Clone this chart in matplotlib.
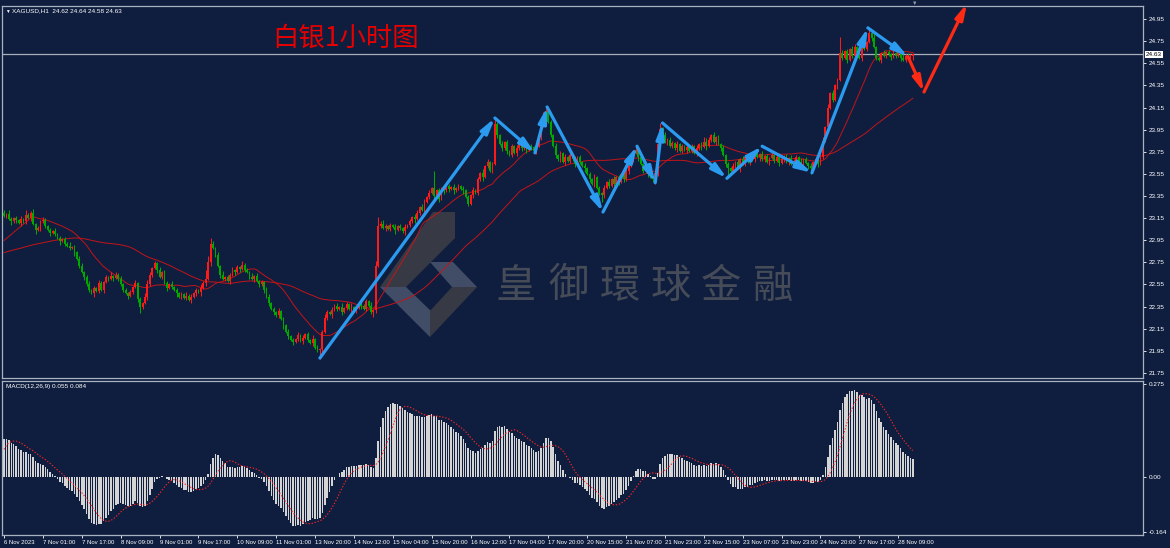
import numpy as np
import pandas as pd
import matplotlib
matplotlib.use("Agg")
import matplotlib.pyplot as plt
from matplotlib.patches import Polygon

W, H, DPI = 1170, 548, 100
BG = "#0f1e3f"
FRAME = "#aab2bf"
UP = "#ff1a1a"
DOWN = "#00a800"
MA_COLOR = "#c41418"
BLUE = "#2b9bf0"
RED_ARROW = "#ff2a14"
SMALL_FONT = ["Liberation Sans", "DejaVu Sans"]
CJK_SC = ["Noto Sans CJK SC", "DejaVu Sans"]
CJK_TC = ["Noto Sans CJK TC", "DejaVu Sans"]
SMALL = 4.6
XSMALL = 4.3

# ---------------- data ----------------
symbol_header = "XAGUSD,H1  24.62 24.64 24.58 24.63"
macd_header = "MACD(12,26,9) 0.055 0.084"
title = "白银1小时图"
watermark = "皇御環球金融"
last_price = 24.63

# closes of the hours before the first visible bar (indicator warm-up only)
pre_closes = [
    22.74, 22.77, 22.75, 22.79, 22.76, 22.80, 22.78, 22.82, 22.79, 22.76,
    22.80, 22.83, 22.79, 22.76, 22.81, 22.84, 22.80, 22.77, 22.75, 22.79,
    22.82, 22.78, 22.75, 22.73, 22.77, 22.80, 22.76, 22.74, 22.72, 22.76,
    22.79, 22.82, 22.78, 22.80, 22.84, 22.80, 22.77, 22.79, 22.82, 22.78,
    22.75, 22.78, 22.80, 22.76, 22.74, 22.77, 22.75, 22.78, 22.76, 22.80,
    22.78, 22.76,
    22.95, 23.12, 23.25, 23.20, 23.16, 23.22, 23.18, 23.20,
]

closes = [
    # 0-11
    23.17, 23.19, 23.14, 23.12, 23.15, 23.13, 23.11, 23.14, 23.12, 23.18, 23.15, 23.20,
    # 12-21
    23.10, 23.04, 23.06, 23.12, 23.13, 23.08, 23.04, 23.02, 23.03, 23.01,
    # 22-33
    22.97, 22.94, 22.96, 22.92, 22.90, 22.88, 22.89, 22.84, 22.78, 22.72, 22.66, 22.62,
    # 34-41
    22.55, 22.50, 22.47, 22.52, 22.49, 22.56, 22.50, 22.57,
    # 42-54
    22.62, 22.60, 22.63, 22.61, 22.64, 22.60, 22.55, 22.50, 22.47, 22.45, 22.48, 22.53, 22.56,
    # 55-65
    22.42, 22.35, 22.38, 22.44, 22.55, 22.64, 22.70, 22.74, 22.68, 22.62, 22.66,
    # 66-80
    22.56, 22.52, 22.55, 22.53, 22.50, 22.47, 22.44, 22.46, 22.43,
    22.45, 22.41, 22.44, 22.47, 22.50, 22.48,
    # 81-92
    22.52, 22.56, 22.60, 22.75, 22.92, 22.88, 22.82, 22.72, 22.64, 22.60, 22.62, 22.58,
    # 93-106
    22.64, 22.68, 22.66, 22.71, 22.69, 22.73, 22.68,
    22.66, 22.62, 22.60, 22.63, 22.58, 22.55, 22.57,
    # 107-120
    22.50, 22.44, 22.38, 22.33, 22.30, 22.27, 22.31, 22.24,
    22.18, 22.12, 22.08, 22.05, 22.03, 22.06,
    # 121-134
    22.09, 22.04, 22.07, 22.10, 22.05, 22.02, 22.06, 21.98, 21.96, 21.97,
    22.12, 22.25, 22.30, 22.28,
    # 135-154
    22.32, 22.36, 22.33, 22.35, 22.30, 22.34, 22.37, 22.33, 22.35, 22.31, 22.34, 22.38, 22.36, 22.33,
    22.40, 22.36, 22.30, 22.32, 22.72, 23.08,
    # 155-174
    23.10, 23.06, 23.08, 23.05, 23.09, 23.07, 23.04, 23.08, 23.06, 23.03, 23.07, 23.09,
    23.12, 23.16, 23.14, 23.20, 23.25, 23.22, 23.30, 23.34,
    # 175-189
    23.38, 23.42, 23.35, 23.40, 23.32,
    23.42, 23.40, 23.44, 23.41, 23.43, 23.40, 23.42, 23.44, 23.41, 23.40,
    # 190-202
    23.34, 23.28, 23.36, 23.40, 23.38, 23.50, 23.56, 23.52, 23.62, 23.66, 23.58, 23.64, 24.00,
    # 203-219
    23.90, 23.82, 23.78, 23.84, 23.76, 23.72, 23.80, 23.74, 23.78,
    23.82, 23.78, 23.81, 23.77, 23.80, 23.79, 23.76, 23.80,
    # 220-238
    23.88, 23.98, 24.08, 24.12, 24.02, 23.90,
    23.80, 23.72, 23.68, 23.74, 23.66, 23.70, 23.67,
    23.72, 23.68, 23.64, 23.70, 23.66, 23.62,
    # 239-256
    23.60, 23.55, 23.50, 23.46, 23.52, 23.42, 23.38, 23.36,
    23.42, 23.48, 23.44, 23.50, 23.46, 23.52, 23.48, 23.55, 23.50, 23.58,
    # 257-270
    23.62, 23.68, 23.74, 23.77, 23.70, 23.64, 23.58, 23.62, 23.55, 23.52,
    23.50, 23.56, 23.82, 23.96,
    # 271-281
    23.90, 23.84, 23.86, 23.80, 23.83, 23.78, 23.82, 23.76, 23.80, 23.77, 23.79,
    # 282-299
    23.76, 23.80, 23.74, 23.78, 23.82, 23.79, 23.84, 23.80, 23.86, 23.90, 23.84, 23.88, 23.82, 23.78,
    23.72, 23.64, 23.60, 23.58,
    # 300-309
    23.62, 23.66, 23.60, 23.68, 23.64, 23.70, 23.66, 23.72, 23.68, 23.74,
    # 310-331
    23.70, 23.73, 23.68, 23.71, 23.66, 23.69, 23.72, 23.67, 23.70, 23.65,
    23.68, 23.71, 23.66, 23.69, 23.64, 23.67, 23.70, 23.66, 23.63, 23.68, 23.65, 23.62,
    # 332-344
    23.60, 23.66, 23.68, 23.64, 23.70, 23.85, 23.97, 24.15, 24.28, 24.22, 24.35, 24.40, 24.64,
    # 345-360
    24.60, 24.66, 24.58, 24.68, 24.62, 24.70, 24.64, 24.60, 24.72, 24.68, 24.74,
    24.82, 24.78, 24.70, 24.60, 24.58,
    # 361-374
    24.64, 24.62, 24.65, 24.63, 24.61, 24.64, 24.62, 24.66,
    24.60, 24.58, 24.62, 24.60, 24.62, 24.63,
]

# wick lengths in cents above / below the candle bodies, one digit per bar
upper_wick_cents = (
    "21321 21312 21312 13212 13121"
    "21312 13212 31213 21213 12131"
    "21213 12134 21213 12213 12121"
    "31212 13286 32121 31213 12131"
    "21312 12132 12131 21312 13121"
    "21312 12321 31213 12131 21312"
    "13121 23212 13121 31213 21321"
    "21312 13121 31213 12131 21312"
    "12321 31212 13121 31213 21321"
    "21312 13121 31213 12131 21312"
    "13121 31213 21213 12131 21312"
    "21312 13121 31243 21312 13121"
    "31213 12131 21312 13121 31213"
    "12131 21312 13312 13121 31213"
    "21312 12131 21312 13121 31211"
)
lower_wick_cents = (
    "12131 21312 13121 31213 12131"
    "21213 12131 21312 13121 31212"
    "13121 31213 12131 21312 13121"
    "21312 13121 31213 12131 21312"
    "12131 21312 13121 31213 12131"
    "21312 13121 31213 12131 21312"
    "12131 21312 13121 31213 12131"
    "21312 13121 31213 12131 21312"
    "12131 21312 13121 31213 12131"
    "21312 13121 31213 12131 21312"
    "12131 21312 13121 31213 12131"
    "21312 13121 31213 12131 21312"
    "12131 21312 13121 31213 12131"
    "21312 13121 31213 12131 21312"
    "12131 21312 13121 31213 12131"
)
high_spikes = {9: 23.22, 85: 22.97, 153: 22.76, 154: 23.16, 177: 23.58, 202: 24.05,
               223: 24.15, 260: 23.80, 270: 24.01, 292: 23.93, 339: 24.18,
               344: 24.79, 356: 24.87, 374: 24.64}
low_spikes = {13: 23.01, 56: 22.29, 130: 21.88, 152: 22.26, 246: 23.30,
              268: 23.46, 298: 23.52, 332: 23.55, 374: 24.58}

time_labels = ["6 Nov 2023", "7 Nov 01:00", "7 Nov 17:00", "8 Nov 09:00", "9 Nov 01:00",
               "9 Nov 17:00", "10 Nov 09:00", "11 Nov 01:00", "13 Nov 20:00", "14 Nov 12:00",
               "15 Nov 04:00", "15 Nov 20:00", "16 Nov 12:00", "17 Nov 04:00", "17 Nov 20:00",
               "20 Nov 15:00", "21 Nov 07:00", "21 Nov 23:00", "22 Nov 15:00", "23 Nov 07:00",
               "23 Nov 23:00", "24 Nov 20:00", "27 Nov 17:00", "28 Nov 09:00"]
label_every = 16

zigzag_bars = [130, 202, 218.5, 223.5, 246.5, 260.5, 268, 271, 297.5, 312, 332.5, 355.5, 372]
zigzag_prices = [21.885, 24.055, 23.74, 24.155, 23.205, 23.80, 23.47, 24.01, 23.51, 23.80,
                 23.56, 24.87, 24.61]
forecast_bars = [372, 378.6, 396.3]
forecast_prices = [24.61, 24.29, 25.09]

ma_periods = [20, 60]
price_ticks = [24.95, 24.75, 24.55, 24.35, 24.15, 23.95, 23.75, 23.55, 23.35, 23.15,
               22.95, 22.75, 22.55, 22.35, 22.15, 21.95, 21.75]
macd_ticks = [0.275, 0.0, -0.164]
macd_tick_labels = ["0.275", "0.00", "-0.164"]

# ---------------- derived series ----------------
closes = np.array(closes, dtype=float)
n = len(closes)
assert n == 375, n
uw = np.array([int(ch) for ch in upper_wick_cents.replace(" ", "")], dtype=float)
lw = np.array([int(ch) for ch in lower_wick_cents.replace(" ", "")], dtype=float)
assert len(uw) == n and len(lw) == n, (len(uw), len(lw))

opens = np.concatenate([[pre_closes[-1]], closes[:-1]])
opens[-1] = 24.62
highs = np.maximum(opens, closes) + uw / 100.0
lows = np.minimum(opens, closes) - lw / 100.0
for k, v in high_spikes.items():
    highs[k] = v
for k, v in low_spikes.items():
    lows[k] = v

full = pd.Series(list(pre_closes) + list(closes))
npre = len(pre_closes)
mas = [full.rolling(p).mean().values[npre:] for p in ma_periods]
ema12 = full.ewm(span=12, adjust=False).mean()
ema26 = full.ewm(span=26, adjust=False).mean()
macd_full = ema12 - ema26
signal_full = macd_full.rolling(9).mean()
macd = macd_full.values[npre:]
signal = signal_full.values[npre:]

bars = np.arange(n)

# ---------------- figure ----------------
plt.rcParams["font.family"] = SMALL_FONT
fig = plt.figure(figsize=(W / DPI, H / DPI), dpi=DPI, facecolor=BG)


def add_px_axes(x0, y0, x1, y1):
    a = fig.add_axes([x0 / W, 1 - y1 / H, (x1 - x0) / W, (y1 - y0) / H])
    a.set_facecolor(BG)
    for s in a.spines.values():
        s.set_color(FRAME)
        s.set_linewidth(0.9)
    return a


def ftext(x, y, s, **kw):
    return fig.text(x / W, 1 - y / H, s, **kw)


PPB = 2.43          # pixels per bar
X0 = 4.0            # pixel of bar 0
xlim = (-(X0 - 2) / PPB, (1143 - X0) / PPB)

ax = add_px_axes(2, 6, 1143, 378)
ax2 = add_px_axes(2, 381, 1143, 535)

# main panel
ax.set_xlim(*xlim)
ax.set_ylim(21.75 - 5 / 110.6, 24.95 + 13 / 110.6)

# watermark (behind everything)
def axf(x, y):
    return ((x - 2) / 1141.0, (378 - y) / 372.0)

logo_dark = "#373a45"
logo_light = "#414c67"
logo_parts = [
    ([(433, 212), (455, 212), (455, 238), (406, 287), (380, 287)], logo_dark),
    ([(380, 287), (406, 287), (432, 312), (430, 337)], logo_light),
    ([(430, 262), (453, 262), (477, 287), (452, 287)], logo_light),
    ([(452, 287), (477, 287), (430, 337), (430, 311)], logo_dark),
]
for pts, col in logo_parts:
    ax.add_patch(Polygon([axf(*p) for p in pts], closed=True, transform=ax.transAxes,
                         facecolor=col, edgecolor="none", zorder=0.5))
wm_centers = [516, 569, 620, 671, 721, 773]
for ch, cx in zip(watermark, wm_centers):
    xx, yy = axf(cx, 286)
    ax.text(xx, yy, ch, transform=ax.transAxes, ha="center", va="center",
            fontsize=29, color="#464b58", family=CJK_TC, zorder=0.6)

# moving averages
for m in mas:
    ax.plot(bars, m, color=MA_COLOR, lw=0.7, zorder=2)

# current price line
ax.axhline(last_price, color="#a9afba", lw=0.9, zorder=2.5)

# candles
up = closes >= opens
cols = np.where(up, UP, DOWN)
ax.vlines(bars, lows, highs, colors=cols, lw=0.75, zorder=3)
body_bottom = np.minimum(opens, closes)
body_h = np.maximum(np.abs(closes - opens), 0.009)
ax.bar(bars, body_h, bottom=body_bottom, width=0.72, color=cols, linewidth=0, zorder=3.1)

# zigzag arrows
def arrow(a, xs, ys, color):
    for i in range(len(xs) - 1):
        a.annotate("", xy=(xs[i + 1], ys[i + 1]), xytext=(xs[i], ys[i]),
                   arrowprops=dict(arrowstyle="-|>,head_length=1.0,head_width=0.26",
                                   color=color, lw=2.3, shrinkA=0, shrinkB=0,
                                   mutation_scale=9),
                   annotation_clip=False, zorder=6)

arrow(ax, zigzag_bars, zigzag_prices, BLUE)
arrow(ax, forecast_bars, forecast_prices, RED_ARROW)

ax.set_xticks([])
ax.yaxis.tick_right()
ax.set_yticks(price_ticks)
ax.set_yticklabels([f"{t:.2f}" for t in price_ticks])
ax.tick_params(axis="y", colors="white", labelcolor="white", labelsize=SMALL,
               length=2, width=0.6, pad=2)

# MACD panel
ax2.set_xlim(*xlim)
ax2.set_ylim(-(535 - 477) / 338.0, (477 - 381) / 338.0)
ax2.bar(bars, macd, width=0.62, color="#d4d4d4", linewidth=0, zorder=2)
ax2.plot(bars, signal, color="#ff2424", lw=0.8, ls=(0, (1.2, 1.6)), zorder=3)
ax2.yaxis.tick_right()
ax2.set_yticks(macd_ticks)
ax2.set_yticklabels(macd_tick_labels)
ax2.tick_params(axis="y", colors="white", labelcolor="white", labelsize=SMALL,
                length=2, width=0.6, pad=2)
ax2.set_xticks([i * label_every for i in range(len(time_labels))])
ax2.set_xticklabels(time_labels)
ax2.tick_params(axis="x", colors="white", labelcolor="white", labelsize=XSMALL,
                length=2.5, width=0.6, pad=0.8)
for lab in ax2.get_xticklabels():
    lab.set_ha("left")

# texts
ftext(5, 11, "▼", fontsize=3.4, color="white", va="center", ha="left")
ftext(12, 11, symbol_header, fontsize=SMALL, color="white", va="center", ha="left")
ftext(6, 386.5, macd_header, fontsize=SMALL, color="white", va="center", ha="left")
ftext(272, 38, title, fontsize=19, color="#e60000", va="center", ha="left", family=CJK_SC)
ftext(1146, 54.5, f"{last_price:.2f}", fontsize=SMALL, color="black", va="center", ha="left",
      bbox=dict(boxstyle="square,pad=0.18", fc="white", ec="white", lw=0))
ftext(915, 3, "▼", fontsize=4, color="#9aa0aa", va="center", ha="center")

fig.savefig("out.png", dpi=DPI, facecolor=BG)
